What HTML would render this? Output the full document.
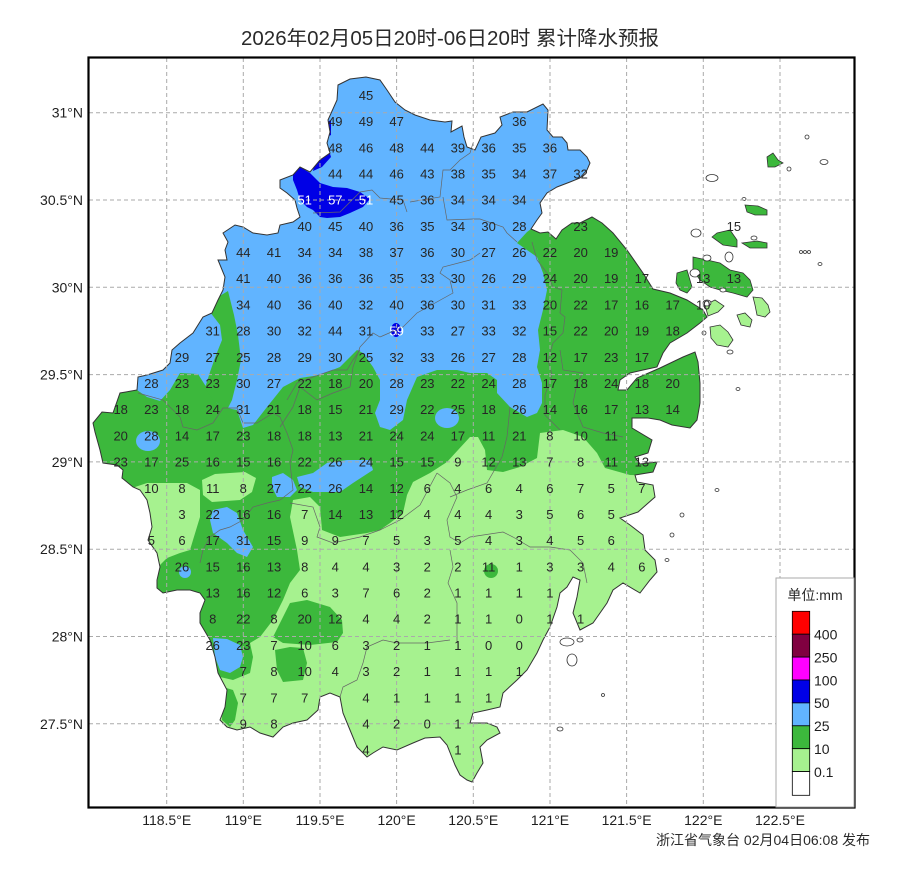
<!DOCTYPE html>
<html><head><meta charset="utf-8"><style>
html,body{margin:0;padding:0;background:#fff;}
svg{display:block;}
.n{font-family:"Liberation Sans",sans-serif;font-size:13px;fill:#262626;text-anchor:middle;}
.w{fill:#fff;}
.ax{font-family:"Liberation Sans",sans-serif;font-size:14px;fill:#1e1e1e;}
</style></head><body>
<svg width="900" height="877" viewBox="0 0 900 877" xmlns="http://www.w3.org/2000/svg">
<defs>
<clipPath id="pc"><polygon id="provpts" points="338,85 350,79 366,77 380,80 387,90 395,102 405,110 415,115 430,120 445,122 452,121 451,132 462,126 464,137 467,147 475,150 481,137 495,133 502,125 500,117 513,112 527,112 543,104 548,110 547,130 553,137 562,137 567,143 568,150 580,150 587,157 590,163 587,170 580,178 570,182 557,187 547,193 540,203 542,213 537,220 531,229 540,233 548,232 556,239 562,230 572,223 580,223 592,217 602,223 613,233 627,250 643,273 653,289 670,293 687,300 703,310 707,317 700,323 687,333 670,343 663,353 657,367 643,370 630,373 620,380 618,390 627,390 637,378 660,368 683,357 695,352 698,362 700,383 700,403 697,420 690,428 672,425 660,420 648,418 632,418 632,428 652,440 648,453 635,457 640,464 657,462 653,472 635,475 637,482 653,485 655,497 638,512 620,518 630,525 643,535 645,550 655,560 657,572 650,580 640,593 623,583 613,590 607,603 593,623 580,630 573,613 577,597 580,580 573,577 567,587 560,593 557,607 550,627 543,640 537,653 527,670 517,680 503,693 500,707 487,710 473,713 470,723 487,723 497,727 500,733 487,740 480,747 483,763 477,773 472,782 467,780 460,775 455,765 447,745 440,737 425,738 413,743 397,750 383,747 373,753 367,757 357,747 350,730 343,713 340,697 330,693 320,697 318,710 307,720 293,723 283,727 273,737 260,733 250,727 237,730 227,727 220,720 225,707 227,690 218,673 215,657 210,640 200,623 200,613 205,600 200,593 190,590 177,590 163,593 157,588 157,580 160,567 157,553 148,540 152,527 150,513 147,500 140,490 133,487 122,478 123,470 117,465 103,463 100,450 95,432 93,423 102,412 113,413 120,393 137,390 138,377 147,375 163,370 170,363 172,350 180,343 193,333 203,317 212,313 218,300 223,290 225,277 218,260 227,260 225,250 228,242 223,233 235,225 243,227 253,233 267,235 278,233 280,225 293,222 300,217 297,208 295,200 287,193 280,188 280,180 293,175 300,167 310,172 320,160 330,153 327,143 330,132 328,120 337,100"/></clipPath>
</defs>
<rect width="900" height="877" fill="#fff"/>

<g clip-path="url(#pc)">
<rect x="80" y="60" width="700" height="740" fill="#3cb83c"/>
<polygon fill="#a6f28f" points="720,470 665,476 630,475 605,468 597,453 583,437 563,430 540,433 537,458 520,467 503,472 487,470 485,450 478,437 470,437 458,450 447,462 430,473 413,482 407,495 403,513 390,523 380,530 367,533 340,537 322,530 320,507 310,497 293,500 290,517 297,550 300,570 290,583 283,600 273,620 260,637 250,643 253,657 250,673 233,680 220,677 200,675 200,800 720,800"/>
<polygon fill="#a6f28f" points="80,487 135,487 147,483 163,483 187,483 200,490 200,517 193,540 190,550 180,553 167,558 158,567 157,600 80,600"/>
<polygon fill="#a6f28f" points="202,480 215,474 245,472 256,478 252,492 240,500 212,502 203,495"/>
<polygon fill="#3cb83c" points="290,603 307,600 330,607 342,620 343,633 337,642 310,645 283,643 273,637 280,623"/>
<polygon fill="#3cb83c" points="275,650 290,647 303,648 307,663 303,680 283,682 277,670"/>
<polygon fill="#3cb83c" points="223,687 233,690 238,703 235,720 230,727 222,720"/>
<ellipse cx="491" cy="571" rx="7" ry="7" fill="#3cb83c"/>
<polygon fill="#61b4ff" points="80,55 620,55 620,150 600,200 560,220 545,226 531,229 527,232 517,243 537,257 543,273 547,290 543,310 538,330 540,350 537,367 542,383 542,403 537,413 527,417 510,407 497,393 497,380 487,373 470,373 457,370 437,370 417,377 407,400 403,420 390,430 380,427 375,413 380,400 380,380 373,367 363,353 357,350 340,367 320,375 300,378 283,387 267,407 253,425 243,428 237,410 227,408 217,403 213,397 205,385 198,374 180,373 170,390 160,401 147,397 137,390 120,393 80,393"/>
<polygon fill="#3cb83c" points="218,297 228,291 234,315 238,335 241,360 237,380 232,400 227,410 213,400 205,388 210,372 216,355 222,340 220,325 210,312"/>
<polygon fill="#61b4ff" points="213,638 227,639 240,645 243,657 240,667 230,673 220,670 215,657"/>
<ellipse cx="185" cy="572" rx="6" ry="6" fill="#61b4ff"/>
<polygon fill="#61b4ff" points="213,510 227,507 237,513 243,530 253,547 247,557 237,553 227,543 213,533 210,520"/>
<ellipse cx="148" cy="441" rx="12" ry="10" fill="#61b4ff"/>
<polygon fill="#61b4ff" points="272,477 283,473 293,480 297,490 290,497 277,497 272,487"/>
<polygon fill="#61b4ff" points="297,477 313,473 327,463 347,460 370,460 373,470 353,483 340,492 313,492 300,487"/>
<ellipse cx="447" cy="418" rx="12" ry="10" fill="#61b4ff"/>
<polygon fill="#0000e6" points="293,172 300,167 310,173 320,183 333,187 347,188 360,192 370,199 363,207 350,213 340,217 327,218 320,217 313,210 307,207 300,200 297,190 293,180"/>
<polygon fill="#0000e6" points="320,150 328,147 331,157 322,167 313,171 315,160"/>
<polygon fill="#0000e6" points="327,122 331,120 331,135 327,137"/>
<ellipse cx="396" cy="330" rx="5" ry="7" fill="#0000e6"/>
</g>

<g fill="none" stroke="#666" stroke-width="0.7">
<polyline points="313,213 340,212 360,192 372,190 380,198 403,200 407,212"/>
<polyline points="410,202 440,197 443,170 450,170 460,160 470,153 473,143"/>
<polyline points="443,197 447,220 473,219 480,219 503,227 507,233 517,242"/>
<polyline points="532,242 537,260 547,273 553,287 562,290 560,313 565,317 563,333 553,343 548,360 552,375 545,395 545,415 560,430"/>
<polyline points="480,253 470,260 443,267 440,273 450,280 453,293 417,313 403,327 380,337 373,333 360,347 353,367 350,387 333,393 317,400 300,387 293,407 280,427"/>
<polyline points="138,393 163,400 180,417 183,427 197,430 213,423 223,408 237,408 243,423 257,423 273,413 280,417 287,433 293,450 290,463 293,490 280,500 267,503 253,507 243,520 230,527 220,530 210,537 203,550 200,563"/>
<polyline points="287,400 297,383 313,377 333,370 347,370 353,360 360,350"/>
<polyline points="290,503 313,507 320,527 317,537 333,543 360,537 380,530 400,520 420,505 437,473"/>
<polyline points="437,473 450,483 457,497 447,520 450,537 460,543 470,537 503,532 513,537 530,547 550,547 570,550 583,563 587,583"/>
<polyline points="510,407 507,437 502,457 487,483 467,490 450,497"/>
<polyline points="560,350 563,370 583,373 577,383 573,403 583,427 603,433 623,437"/>
<polyline points="450,640 427,643 397,643 383,640 367,647 363,663 357,680 343,687 340,697"/>
<polyline points="450,550 453,567 448,583 457,603 457,643"/>
</g>

<use href="#provpts" fill="none" stroke="#333" stroke-width="1"/>

<g stroke="#333" stroke-width="0.8">
<polygon fill="#3cb83c" points="693,257 707,260 720,263 730,270 743,273 750,280 753,290 747,297 733,293 720,290 710,287 700,280 693,270"/>
<polygon fill="#3cb83c" points="677,273 687,270 692,287 687,293 680,290 676,283"/>
<polygon fill="#3cb83c" points="712,237 717,233 730,230 737,240 737,247 723,245"/>
<polygon fill="#3cb83c" points="745,205 758,206 767,210 767,215 755,215 747,212"/>
<polygon fill="#3cb83c" points="742,243 757,241 767,243 767,248 750,248"/>
<polygon fill="#3cb83c" points="767,157 773,153 778,160 783,163 775,167 768,167"/>
<polygon fill="#a6f28f" points="753,297 762,298 768,305 770,312 765,317 757,315 755,305"/>
<polygon fill="#a6f28f" points="710,327 720,325 728,332 733,340 728,347 717,345 711,338"/>
<polygon fill="#a6f28f" points="737,315 745,313 752,320 750,327 741,325"/>
<polygon fill="#a6f28f" points="705,305 715,300 724,306 718,312 708,316"/>
<g fill="#fff">
<ellipse cx="696" cy="233" rx="5" ry="4"/>
<ellipse cx="712" cy="178" rx="6" ry="3.5"/>
<ellipse cx="707" cy="258" rx="4" ry="3"/>
<ellipse cx="729" cy="257" rx="4" ry="5"/>
<ellipse cx="695" cy="273" rx="5" ry="4"/>
<ellipse cx="744" cy="199" rx="2" ry="1.5"/>
<ellipse cx="754" cy="238" rx="3" ry="2"/>
<ellipse cx="801" cy="252" rx="1.5" ry="1.5"/>
<ellipse cx="805" cy="252" rx="1.5" ry="1.5"/>
<ellipse cx="809" cy="252" rx="1.5" ry="1.5"/>
<ellipse cx="820" cy="264" rx="2" ry="1.5"/>
<ellipse cx="807" cy="137" rx="2" ry="2"/>
<ellipse cx="824" cy="162" rx="4" ry="2.5"/>
<ellipse cx="789" cy="169" rx="2" ry="2"/>
<ellipse cx="707" cy="303" rx="4" ry="3"/>
<ellipse cx="723" cy="290" rx="3" ry="2"/>
<ellipse cx="730" cy="352" rx="3" ry="2"/>
<ellipse cx="704" cy="333" rx="2" ry="2"/>
<ellipse cx="567" cy="642" rx="7" ry="4"/>
<ellipse cx="572" cy="660" rx="5" ry="6"/>
<ellipse cx="580" cy="640" rx="3" ry="2"/>
<ellipse cx="603" cy="695" rx="1.5" ry="1.5"/>
<ellipse cx="560" cy="729" rx="3" ry="2"/>
<ellipse cx="682" cy="515" rx="2" ry="2"/>
<ellipse cx="717" cy="490" rx="2" ry="1.5"/>
<ellipse cx="672" cy="535" rx="2" ry="2"/>
<ellipse cx="667" cy="560" rx="2" ry="1.5"/>
<ellipse cx="738" cy="389" rx="2" ry="1.5"/>
</g>
</g>

<g stroke="#aaa" stroke-width="1" stroke-dasharray="4,3" fill="none">
<line x1="166.7" y1="58" x2="166.7" y2="807"/>
<line x1="243.3" y1="58" x2="243.3" y2="807"/>
<line x1="320" y1="58" x2="320" y2="807"/>
<line x1="396.6" y1="58" x2="396.6" y2="807"/>
<line x1="473.3" y1="58" x2="473.3" y2="807"/>
<line x1="550" y1="58" x2="550" y2="807"/>
<line x1="626.6" y1="58" x2="626.6" y2="807"/>
<line x1="703.3" y1="58" x2="703.3" y2="807"/>
<line x1="780" y1="58" x2="780" y2="807"/>
<line x1="89" y1="112.7" x2="854" y2="112.7"/>
<line x1="89" y1="200" x2="854" y2="200"/>
<line x1="89" y1="287.3" x2="854" y2="287.3"/>
<line x1="89" y1="374.6" x2="854" y2="374.6"/>
<line x1="89" y1="461.9" x2="854" y2="461.9"/>
<line x1="89" y1="549.2" x2="854" y2="549.2"/>
<line x1="89" y1="636.5" x2="854" y2="636.5"/>
<line x1="89" y1="723.8" x2="854" y2="723.8"/>
</g>

<g class="n">
<text x="366.0" y="99.9">45</text>
<text x="335.3" y="126.1">49</text><text x="366.0" y="126.1">49</text><text x="396.6" y="126.1">47</text><text x="519.3" y="126.1">36</text>
<text x="335.3" y="152.3">48</text><text x="366.0" y="152.3">46</text><text x="396.6" y="152.3">48</text><text x="427.3" y="152.3">44</text><text x="457.9" y="152.3">39</text><text x="488.6" y="152.3">36</text><text x="519.3" y="152.3">35</text><text x="549.9" y="152.3">36</text>
<text x="335.3" y="178.5">44</text><text x="366.0" y="178.5">44</text><text x="396.6" y="178.5">46</text><text x="427.3" y="178.5">43</text><text x="457.9" y="178.5">38</text><text x="488.6" y="178.5">35</text><text x="519.3" y="178.5">34</text><text x="549.9" y="178.5">37</text><text x="580.6" y="178.5">32</text>
<text class="w" x="304.7" y="204.7">51</text><text class="w" x="335.3" y="204.7">57</text><text class="w" x="366.0" y="204.7">51</text><text x="396.6" y="204.7">45</text><text x="427.3" y="204.7">36</text><text x="457.9" y="204.7">34</text><text x="488.6" y="204.7">34</text><text x="519.3" y="204.7">34</text>
<text x="304.7" y="230.9">40</text><text x="335.3" y="230.9">45</text><text x="366.0" y="230.9">40</text><text x="396.6" y="230.9">36</text><text x="427.3" y="230.9">35</text><text x="457.9" y="230.9">34</text><text x="488.6" y="230.9">30</text><text x="519.3" y="230.9">28</text><text x="580.6" y="230.9">23</text><text x="733.9" y="230.9">15</text>
<text x="243.3" y="257.1">44</text><text x="274.0" y="257.1">41</text><text x="304.7" y="257.1">34</text><text x="335.3" y="257.1">34</text><text x="366.0" y="257.1">38</text><text x="396.6" y="257.1">37</text><text x="427.3" y="257.1">36</text><text x="457.9" y="257.1">30</text><text x="488.6" y="257.1">27</text><text x="519.3" y="257.1">26</text><text x="549.9" y="257.1">22</text><text x="580.6" y="257.1">20</text><text x="611.2" y="257.1">19</text>
<text x="243.3" y="283.2">41</text><text x="274.0" y="283.2">40</text><text x="304.7" y="283.2">36</text><text x="335.3" y="283.2">36</text><text x="366.0" y="283.2">36</text><text x="396.6" y="283.2">35</text><text x="427.3" y="283.2">33</text><text x="457.9" y="283.2">30</text><text x="488.6" y="283.2">26</text><text x="519.3" y="283.2">29</text><text x="549.9" y="283.2">24</text><text x="580.6" y="283.2">20</text><text x="611.2" y="283.2">19</text><text x="641.9" y="283.2">17</text><text x="703.2" y="283.2">13</text><text x="733.9" y="283.2">13</text>
<text x="243.3" y="309.4">34</text><text x="274.0" y="309.4">40</text><text x="304.7" y="309.4">36</text><text x="335.3" y="309.4">40</text><text x="366.0" y="309.4">32</text><text x="396.6" y="309.4">40</text><text x="427.3" y="309.4">36</text><text x="457.9" y="309.4">30</text><text x="488.6" y="309.4">31</text><text x="519.3" y="309.4">33</text><text x="549.9" y="309.4">20</text><text x="580.6" y="309.4">22</text><text x="611.2" y="309.4">17</text><text x="641.9" y="309.4">16</text><text x="672.6" y="309.4">17</text><text x="703.2" y="309.4">10</text>
<text x="212.7" y="335.6">31</text><text x="243.3" y="335.6">28</text><text x="274.0" y="335.6">30</text><text x="304.7" y="335.6">32</text><text x="335.3" y="335.6">44</text><text x="366.0" y="335.6">31</text><text class="w" x="396.6" y="335.6">59</text><text x="427.3" y="335.6">33</text><text x="457.9" y="335.6">27</text><text x="488.6" y="335.6">33</text><text x="519.3" y="335.6">32</text><text x="549.9" y="335.6">15</text><text x="580.6" y="335.6">22</text><text x="611.2" y="335.6">20</text><text x="641.9" y="335.6">19</text><text x="672.6" y="335.6">18</text>
<text x="182.0" y="361.8">29</text><text x="212.7" y="361.8">27</text><text x="243.3" y="361.8">25</text><text x="274.0" y="361.8">28</text><text x="304.7" y="361.8">29</text><text x="335.3" y="361.8">30</text><text x="366.0" y="361.8">25</text><text x="396.6" y="361.8">32</text><text x="427.3" y="361.8">33</text><text x="457.9" y="361.8">26</text><text x="488.6" y="361.8">27</text><text x="519.3" y="361.8">28</text><text x="549.9" y="361.8">12</text><text x="580.6" y="361.8">17</text><text x="611.2" y="361.8">23</text><text x="641.9" y="361.8">17</text>
<text x="151.4" y="388.0">28</text><text x="182.0" y="388.0">23</text><text x="212.7" y="388.0">23</text><text x="243.3" y="388.0">30</text><text x="274.0" y="388.0">27</text><text x="304.7" y="388.0">22</text><text x="335.3" y="388.0">18</text><text x="366.0" y="388.0">20</text><text x="396.6" y="388.0">28</text><text x="427.3" y="388.0">23</text><text x="457.9" y="388.0">22</text><text x="488.6" y="388.0">24</text><text x="519.3" y="388.0">28</text><text x="549.9" y="388.0">17</text><text x="580.6" y="388.0">18</text><text x="611.2" y="388.0">24</text><text x="641.9" y="388.0">18</text><text x="672.6" y="388.0">20</text>
<text x="120.7" y="414.2">18</text><text x="151.4" y="414.2">23</text><text x="182.0" y="414.2">18</text><text x="212.7" y="414.2">24</text><text x="243.3" y="414.2">31</text><text x="274.0" y="414.2">21</text><text x="304.7" y="414.2">18</text><text x="335.3" y="414.2">15</text><text x="366.0" y="414.2">21</text><text x="396.6" y="414.2">29</text><text x="427.3" y="414.2">22</text><text x="457.9" y="414.2">25</text><text x="488.6" y="414.2">18</text><text x="519.3" y="414.2">26</text><text x="549.9" y="414.2">14</text><text x="580.6" y="414.2">16</text><text x="611.2" y="414.2">17</text><text x="641.9" y="414.2">13</text><text x="672.6" y="414.2">14</text>
<text x="120.7" y="440.4">20</text><text x="151.4" y="440.4">28</text><text x="182.0" y="440.4">14</text><text x="212.7" y="440.4">17</text><text x="243.3" y="440.4">23</text><text x="274.0" y="440.4">18</text><text x="304.7" y="440.4">18</text><text x="335.3" y="440.4">13</text><text x="366.0" y="440.4">21</text><text x="396.6" y="440.4">24</text><text x="427.3" y="440.4">24</text><text x="457.9" y="440.4">17</text><text x="488.6" y="440.4">11</text><text x="519.3" y="440.4">21</text><text x="549.9" y="440.4">8</text><text x="580.6" y="440.4">10</text><text x="611.2" y="440.4">11</text>
<text x="120.7" y="466.6">23</text><text x="151.4" y="466.6">17</text><text x="182.0" y="466.6">25</text><text x="212.7" y="466.6">16</text><text x="243.3" y="466.6">15</text><text x="274.0" y="466.6">16</text><text x="304.7" y="466.6">22</text><text x="335.3" y="466.6">26</text><text x="366.0" y="466.6">24</text><text x="396.6" y="466.6">15</text><text x="427.3" y="466.6">15</text><text x="457.9" y="466.6">9</text><text x="488.6" y="466.6">12</text><text x="519.3" y="466.6">13</text><text x="549.9" y="466.6">7</text><text x="580.6" y="466.6">8</text><text x="611.2" y="466.6">11</text><text x="641.9" y="466.6">13</text>
<text x="151.4" y="492.8">10</text><text x="182.0" y="492.8">8</text><text x="212.7" y="492.8">11</text><text x="243.3" y="492.8">8</text><text x="274.0" y="492.8">27</text><text x="304.7" y="492.8">22</text><text x="335.3" y="492.8">26</text><text x="366.0" y="492.8">14</text><text x="396.6" y="492.8">12</text><text x="427.3" y="492.8">6</text><text x="457.9" y="492.8">4</text><text x="488.6" y="492.8">6</text><text x="519.3" y="492.8">4</text><text x="549.9" y="492.8">6</text><text x="580.6" y="492.8">7</text><text x="611.2" y="492.8">5</text><text x="641.9" y="492.8">7</text>
<text x="182.0" y="519.0">3</text><text x="212.7" y="519.0">22</text><text x="243.3" y="519.0">16</text><text x="274.0" y="519.0">16</text><text x="304.7" y="519.0">7</text><text x="335.3" y="519.0">14</text><text x="366.0" y="519.0">13</text><text x="396.6" y="519.0">12</text><text x="427.3" y="519.0">4</text><text x="457.9" y="519.0">4</text><text x="488.6" y="519.0">4</text><text x="519.3" y="519.0">3</text><text x="549.9" y="519.0">5</text><text x="580.6" y="519.0">6</text><text x="611.2" y="519.0">5</text>
<text x="151.4" y="545.2">5</text><text x="182.0" y="545.2">6</text><text x="212.7" y="545.2">17</text><text x="243.3" y="545.2">31</text><text x="274.0" y="545.2">15</text><text x="304.7" y="545.2">9</text><text x="335.3" y="545.2">9</text><text x="366.0" y="545.2">7</text><text x="396.6" y="545.2">5</text><text x="427.3" y="545.2">3</text><text x="457.9" y="545.2">5</text><text x="488.6" y="545.2">4</text><text x="519.3" y="545.2">3</text><text x="549.9" y="545.2">4</text><text x="580.6" y="545.2">5</text><text x="611.2" y="545.2">6</text>
<text x="182.0" y="571.3">26</text><text x="212.7" y="571.3">15</text><text x="243.3" y="571.3">16</text><text x="274.0" y="571.3">13</text><text x="304.7" y="571.3">8</text><text x="335.3" y="571.3">4</text><text x="366.0" y="571.3">4</text><text x="396.6" y="571.3">3</text><text x="427.3" y="571.3">2</text><text x="457.9" y="571.3">2</text><text x="488.6" y="571.3">11</text><text x="519.3" y="571.3">1</text><text x="549.9" y="571.3">3</text><text x="580.6" y="571.3">3</text><text x="611.2" y="571.3">4</text><text x="641.9" y="571.3">6</text>
<text x="212.7" y="597.5">13</text><text x="243.3" y="597.5">16</text><text x="274.0" y="597.5">12</text><text x="304.7" y="597.5">6</text><text x="335.3" y="597.5">3</text><text x="366.0" y="597.5">7</text><text x="396.6" y="597.5">6</text><text x="427.3" y="597.5">2</text><text x="457.9" y="597.5">1</text><text x="488.6" y="597.5">1</text><text x="519.3" y="597.5">1</text><text x="549.9" y="597.5">1</text>
<text x="212.7" y="623.7">8</text><text x="243.3" y="623.7">22</text><text x="274.0" y="623.7">8</text><text x="304.7" y="623.7">20</text><text x="335.3" y="623.7">12</text><text x="366.0" y="623.7">4</text><text x="396.6" y="623.7">4</text><text x="427.3" y="623.7">2</text><text x="457.9" y="623.7">1</text><text x="488.6" y="623.7">1</text><text x="519.3" y="623.7">0</text><text x="549.9" y="623.7">1</text><text x="580.6" y="623.7">1</text>
<text x="212.7" y="649.9">26</text><text x="243.3" y="649.9">23</text><text x="274.0" y="649.9">7</text><text x="304.7" y="649.9">10</text><text x="335.3" y="649.9">6</text><text x="366.0" y="649.9">3</text><text x="396.6" y="649.9">2</text><text x="427.3" y="649.9">1</text><text x="457.9" y="649.9">1</text><text x="488.6" y="649.9">0</text><text x="519.3" y="649.9">0</text>
<text x="243.3" y="676.1">7</text><text x="274.0" y="676.1">8</text><text x="304.7" y="676.1">10</text><text x="335.3" y="676.1">4</text><text x="366.0" y="676.1">3</text><text x="396.6" y="676.1">2</text><text x="427.3" y="676.1">1</text><text x="457.9" y="676.1">1</text><text x="488.6" y="676.1">1</text><text x="519.3" y="676.1">1</text>
<text x="243.3" y="702.3">7</text><text x="274.0" y="702.3">7</text><text x="304.7" y="702.3">7</text><text x="366.0" y="702.3">4</text><text x="396.6" y="702.3">1</text><text x="427.3" y="702.3">1</text><text x="457.9" y="702.3">1</text><text x="488.6" y="702.3">1</text>
<text x="243.3" y="728.5">9</text><text x="274.0" y="728.5">8</text><text x="366.0" y="728.5">4</text><text x="396.6" y="728.5">2</text><text x="427.3" y="728.5">0</text><text x="457.9" y="728.5">1</text>
<text x="366.0" y="754.7">4</text><text x="457.9" y="754.7">1</text>
</g>

<rect x="88.5" y="57.5" width="766" height="750" fill="none" stroke="#000" stroke-width="2.2"/>

<text x="450" y="45" text-anchor="middle" textLength="418" lengthAdjust="spacingAndGlyphs" style="font-family:'Liberation Sans','Noto Sans CJK SC',sans-serif;font-size:20px;fill:#2a2a2a;">2026年02月05日20时-06日20时 累计降水预报</text>

<g class="ax" text-anchor="end">
<text x="83" y="117.7">31°N</text>
<text x="83" y="205">30.5°N</text>
<text x="83" y="292.3">30°N</text>
<text x="83" y="379.6">29.5°N</text>
<text x="83" y="466.9">29°N</text>
<text x="83" y="554.2">28.5°N</text>
<text x="83" y="641.5">28°N</text>
<text x="83" y="728.8">27.5°N</text>
</g>
<g class="ax" text-anchor="middle">
<text x="166.7" y="825">118.5°E</text>
<text x="243.3" y="825">119°E</text>
<text x="320" y="825">119.5°E</text>
<text x="396.6" y="825">120°E</text>
<text x="473.3" y="825">120.5°E</text>
<text x="550" y="825">121°E</text>
<text x="626.6" y="825">121.5°E</text>
<text x="703.3" y="825">122°E</text>
<text x="780" y="825">122.5°E</text>
</g>

<text x="870" y="845" text-anchor="end" style="font-family:'Liberation Sans','Noto Sans CJK SC',sans-serif;font-size:14px;fill:#2a2a2a;">浙江省气象台 02月04日06:08 发布</text>

<rect x="776" y="578" width="78" height="229" fill="#fff" stroke="#aaa" stroke-width="1"/>
<text x="815" y="600" text-anchor="middle" style="font-family:'Liberation Sans','Noto Sans CJK SC',sans-serif;font-size:14px;fill:#2a2a2a;">单位:mm</text>
<g stroke="#000" stroke-width="0.8">
<rect x="792.3" y="611.3" width="17.4" height="22.9" fill="#ff0000"/>
<rect x="792.3" y="634.2" width="17.4" height="22.9" fill="#800040"/>
<rect x="792.3" y="657.1" width="17.4" height="22.9" fill="#ff00ff"/>
<rect x="792.3" y="680.0" width="17.4" height="22.9" fill="#0000e6"/>
<rect x="792.3" y="702.9" width="17.4" height="22.9" fill="#61b4ff"/>
<rect x="792.3" y="725.8" width="17.4" height="22.9" fill="#3cb83c"/>
<rect x="792.3" y="748.7" width="17.4" height="22.9" fill="#a6f28f"/>
<rect x="792.3" y="771.6" width="17.4" height="23.7" fill="#ffffff"/>
</g>
<g class="ax">
<text x="814" y="639.5">400</text>
<text x="814" y="662.4">250</text>
<text x="814" y="685.3">100</text>
<text x="814" y="708.2">50</text>
<text x="814" y="731.1">25</text>
<text x="814" y="754">10</text>
<text x="814" y="776.9">0.1</text>
</g>
</svg>
</body></html>
